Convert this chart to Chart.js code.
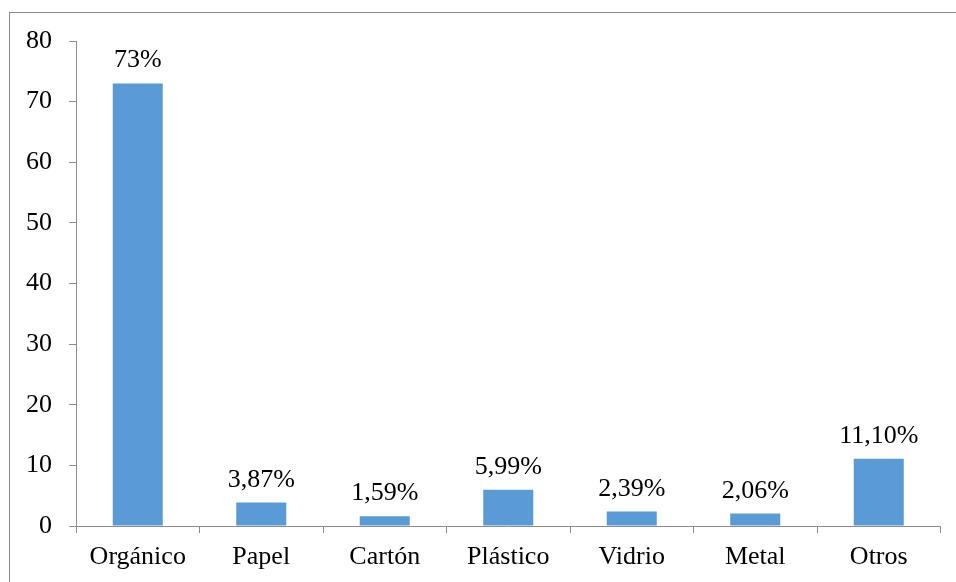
<!DOCTYPE html>
<html>
<head>
<meta charset="utf-8">
<script src="https://cdn.jsdelivr.net/npm/chart.js@4"></script>
<style>
  html, body { margin: 0; padding: 0; background: #fff; }
  #wrap { position: relative; width: 956px; height: 582px; overflow: hidden; }
  #frame { position: absolute; left: 9px; top: 12px; width: 1000px; height: 700px; border: 1px solid #8a8a8a; box-sizing: border-box; }
  canvas { position: absolute; left: 0; top: 0; }
</style>
</head>
<body>
<div id="wrap">
  <div id="frame"></div>
  <canvas id="residuos" width="956" height="582"></canvas>
</div>
<script>
const categories = ['Orgánico', 'Papel', 'Cartón', 'Plástico', 'Vidrio', 'Metal', 'Otros']
const values = [73, 3.87, 1.59, 5.99, 2.39, 2.06, 11.10]
const valueLabels = ['73%', '3,87%', '1,59%', '5,99%', '2,39%', '2,06%', '11,10%']

const fontFamily = '"Liberation Serif", "Times New Roman", serif'
const fontSize = 26
const axisColor = '#8c8c8c'

const barLabels = {
  id: 'barLabels',
  afterDatasetsDraw (chart) {
    const ctx = chart.ctx
    const meta = chart.getDatasetMeta(0)
    ctx.save()
    ctx.font = fontSize + 'px ' + fontFamily
    ctx.fillStyle = '#000'
    ctx.textAlign = 'center'
    ctx.textBaseline = 'alphabetic'
    meta.data.forEach((bar, i) => {
      ctx.fillText(valueLabels[i], bar.x, bar.y - 16)
    })
    ctx.restore()
  }
}

new Chart(document.getElementById('residuos'), {
  type: 'bar',
  data: {
    labels: categories,
    datasets: [
      {
        data: values,
        backgroundColor: '#5b9bd5',
        borderWidth: 0,
        barPercentage: 0.405,
        categoryPercentage: 1
      }
    ]
  },
  options: {
    responsive: false,
    animation: false,
    layout: { padding: { left: 0, right: 15.5, top: 41, bottom: 0 } },
    plugins: {
      legend: { display: false },
      tooltip: { enabled: false }
    },
    scales: {
      x: {
        grid: { drawOnChartArea: false, drawTicks: true, tickLength: 7, color: axisColor, offset: true },
        border: { color: axisColor, width: 1 },
        ticks: { color: '#000', font: { family: fontFamily, size: fontSize }, padding: 9, maxRotation: 0 },
        afterFit (scale) { scale.height = 56 }
      },
      y: {
        min: 0,
        max: 80,
        ticks: { stepSize: 10, color: '#000', font: { family: fontFamily, size: fontSize }, padding: 17 },
        grid: { drawOnChartArea: false, drawTicks: true, tickLength: 7, color: axisColor },
        border: { color: axisColor, width: 1 },
        afterFit (scale) { scale.width = 76 }
      }
    }
  },
  plugins: [barLabels]
})
</script>
</body>
</html>
